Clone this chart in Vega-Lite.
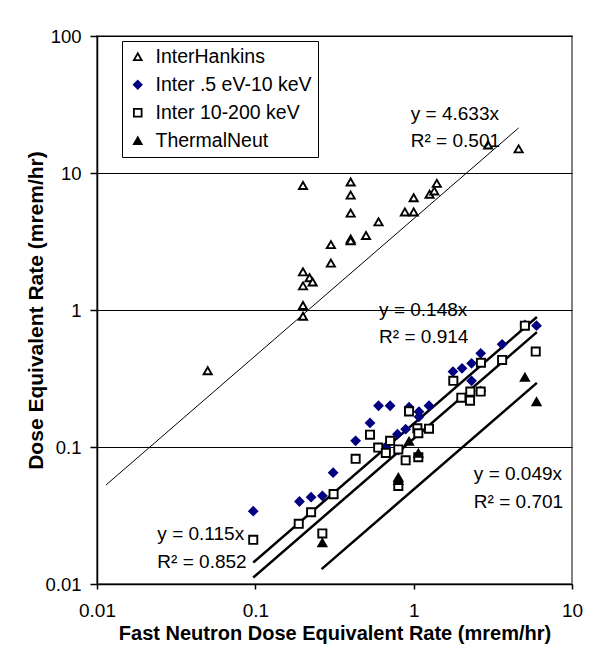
{
  "$schema": "https://vega.github.io/schema/vega-lite/v6.json",
  "autosize": "none",
  "width": 475,
  "height": 548,
  "padding": {"left": 97, "top": 36, "right": 41, "bottom": 81},
  "background": "white",
  "config": {
    "font": "Liberation Sans",
    "view": {"stroke": "#808080", "strokeWidth": 2},
    "axis": {
      "domainColor": "black", "domainWidth": 1.5, "tickColor": "black", "tickWidth": 1.5,
      "labelFont": "Liberation Sans", "labelColor": "black",
      "titleFont": "Liberation Sans", "titleFontWeight": "bold", "titleColor": "black"
    },
    "legend": {
      "strokeColor": "black", "fillColor": "white", "padding": 6,
      "labelFont": "Liberation Sans", "labelFontSize": 19.5, "labelColor": "black", "labelLimit": 300,
      "symbolSize": 60, "symbolStrokeWidth": 1.8, "rowPadding": 7, "labelOffset": 8
    }
  },
  "datasets": {
    "pts": [
      {"s": "InterHankins", "x": 0.05, "y": 0.36},
      {"s": "InterHankins", "x": 0.2, "y": 8.1},
      {"s": "InterHankins", "x": 0.2, "y": 1.9},
      {"s": "InterHankins", "x": 0.2, "y": 1.5},
      {"s": "InterHankins", "x": 0.2, "y": 1.08},
      {"s": "InterHankins", "x": 0.2, "y": 0.9},
      {"s": "InterHankins", "x": 0.22, "y": 1.72},
      {"s": "InterHankins", "x": 0.23, "y": 1.6},
      {"s": "InterHankins", "x": 0.3, "y": 3.0},
      {"s": "InterHankins", "x": 0.3, "y": 2.2},
      {"s": "InterHankins", "x": 0.4, "y": 8.6},
      {"s": "InterHankins", "x": 0.4, "y": 6.9},
      {"s": "InterHankins", "x": 0.4, "y": 5.1},
      {"s": "InterHankins", "x": 0.4, "y": 3.3},
      {"s": "InterHankins", "x": 0.4, "y": 3.2},
      {"s": "InterHankins", "x": 0.5, "y": 3.5},
      {"s": "InterHankins", "x": 0.6, "y": 4.4},
      {"s": "InterHankins", "x": 0.88, "y": 5.2},
      {"s": "InterHankins", "x": 1.0, "y": 6.6},
      {"s": "InterHankins", "x": 1.0, "y": 5.2},
      {"s": "InterHankins", "x": 1.26, "y": 7.0},
      {"s": "InterHankins", "x": 1.35, "y": 7.4},
      {"s": "InterHankins", "x": 1.4, "y": 8.4},
      {"s": "InterHankins", "x": 2.95, "y": 16},
      {"s": "InterHankins", "x": 4.6, "y": 15},
      {"s": "Inter .5 eV-10 keV", "x": 0.097, "y": 0.034},
      {"s": "Inter .5 eV-10 keV", "x": 0.19, "y": 0.04},
      {"s": "Inter .5 eV-10 keV", "x": 0.225, "y": 0.043},
      {"s": "Inter .5 eV-10 keV", "x": 0.265, "y": 0.044},
      {"s": "Inter .5 eV-10 keV", "x": 0.31, "y": 0.065},
      {"s": "Inter .5 eV-10 keV", "x": 0.43, "y": 0.111},
      {"s": "Inter .5 eV-10 keV", "x": 0.53, "y": 0.15},
      {"s": "Inter .5 eV-10 keV", "x": 0.6, "y": 0.2},
      {"s": "Inter .5 eV-10 keV", "x": 0.71, "y": 0.2},
      {"s": "Inter .5 eV-10 keV", "x": 0.667, "y": 0.1},
      {"s": "Inter .5 eV-10 keV", "x": 0.79, "y": 0.124},
      {"s": "Inter .5 eV-10 keV", "x": 0.8, "y": 0.095},
      {"s": "Inter .5 eV-10 keV", "x": 0.89, "y": 0.135},
      {"s": "Inter .5 eV-10 keV", "x": 0.935, "y": 0.195},
      {"s": "Inter .5 eV-10 keV", "x": 1.08, "y": 0.181},
      {"s": "Inter .5 eV-10 keV", "x": 1.08, "y": 0.166},
      {"s": "Inter .5 eV-10 keV", "x": 1.25, "y": 0.2},
      {"s": "Inter .5 eV-10 keV", "x": 1.77, "y": 0.355},
      {"s": "Inter .5 eV-10 keV", "x": 2.02, "y": 0.375},
      {"s": "Inter .5 eV-10 keV", "x": 2.32, "y": 0.408},
      {"s": "Inter .5 eV-10 keV", "x": 2.65, "y": 0.483},
      {"s": "Inter .5 eV-10 keV", "x": 3.62, "y": 0.562},
      {"s": "Inter .5 eV-10 keV", "x": 5.04, "y": 0.778},
      {"s": "Inter .5 eV-10 keV", "x": 5.97, "y": 0.768},
      {"s": "Inter .5 eV-10 keV", "x": 2.32, "y": 0.304},
      {"s": "Inter .5 eV-10 keV", "x": 2.65, "y": 0.256},
      {"s": "Inter 10-200 keV", "x": 0.097, "y": 0.021},
      {"s": "Inter 10-200 keV", "x": 0.188, "y": 0.0275},
      {"s": "Inter 10-200 keV", "x": 0.225, "y": 0.0334},
      {"s": "Inter 10-200 keV", "x": 0.265, "y": 0.0234},
      {"s": "Inter 10-200 keV", "x": 0.312, "y": 0.0453},
      {"s": "Inter 10-200 keV", "x": 0.43, "y": 0.082},
      {"s": "Inter 10-200 keV", "x": 0.53, "y": 0.123},
      {"s": "Inter 10-200 keV", "x": 0.597, "y": 0.099},
      {"s": "Inter 10-200 keV", "x": 0.667, "y": 0.0905},
      {"s": "Inter 10-200 keV", "x": 0.71, "y": 0.111},
      {"s": "Inter 10-200 keV", "x": 0.8, "y": 0.096},
      {"s": "Inter 10-200 keV", "x": 0.89, "y": 0.08},
      {"s": "Inter 10-200 keV", "x": 0.8, "y": 0.052},
      {"s": "Inter 10-200 keV", "x": 0.935, "y": 0.182},
      {"s": "Inter 10-200 keV", "x": 1.055, "y": 0.137},
      {"s": "Inter 10-200 keV", "x": 1.07, "y": 0.126},
      {"s": "Inter 10-200 keV", "x": 1.07, "y": 0.0843},
      {"s": "Inter 10-200 keV", "x": 1.25, "y": 0.136},
      {"s": "Inter 10-200 keV", "x": 1.78, "y": 0.304},
      {"s": "Inter 10-200 keV", "x": 2.0, "y": 0.229},
      {"s": "Inter 10-200 keV", "x": 2.27, "y": 0.218},
      {"s": "Inter 10-200 keV", "x": 2.28, "y": 0.254},
      {"s": "Inter 10-200 keV", "x": 2.65, "y": 0.254},
      {"s": "Inter 10-200 keV", "x": 2.66, "y": 0.412},
      {"s": "Inter 10-200 keV", "x": 3.62, "y": 0.432},
      {"s": "Inter 10-200 keV", "x": 5.04, "y": 0.768},
      {"s": "Inter 10-200 keV", "x": 5.9, "y": 0.497},
      {"s": "ThermalNeut", "x": 0.265, "y": 0.02},
      {"s": "ThermalNeut", "x": 0.8, "y": 0.06},
      {"s": "ThermalNeut", "x": 0.8, "y": 0.057},
      {"s": "ThermalNeut", "x": 0.935, "y": 0.11},
      {"s": "ThermalNeut", "x": 1.07, "y": 0.09},
      {"s": "ThermalNeut", "x": 5.04, "y": 0.323},
      {"s": "ThermalNeut", "x": 5.97, "y": 0.214}
    ],
    "fits": [
      {"fit": "H", "x": 0.0114, "y": 0.05282},
      {"fit": "H", "x": 4.6, "y": 21.31},
      {"fit": "A", "x": 0.097, "y": 0.014356},
      {"fit": "A", "x": 6.0, "y": 0.888},
      {"fit": "B", "x": 0.097, "y": 0.011155},
      {"fit": "B", "x": 6.0, "y": 0.69},
      {"fit": "T", "x": 0.262, "y": 0.012838},
      {"fit": "T", "x": 6.0, "y": 0.294}
    ]
  },
  "layer": [
    {
      "data": {"name": "fits"},
      "transform": [{"filter": "datum.fit == 'H'"}],
      "mark": {"type": "line", "color": "black", "strokeWidth": 1},
      "encoding": {
        "x": {
          "field": "x", "type": "quantitative",
          "scale": {"type": "log", "domain": [0.01, 10], "nice": false},
          "axis": {
            "title": "Fast Neutron Dose Equivalent Rate (mrem/hr)",
            "values": [0.01, 0.1, 1, 10], "format": "~g", "grid": false,
            "labelFontSize": 19, "titleFontSize": 20,
            "tickSize": 5, "labelPadding": 12, "titlePadding": 3, "labelFlush": false
          }
        },
        "y": {
          "field": "y", "type": "quantitative",
          "scale": {"type": "log", "domain": [0.01, 100], "nice": false},
          "axis": {
            "title": "Dose Equivalent Rate (mrem/hr)",
            "values": [0.01, 0.1, 1, 10, 100], "format": "~g", "grid": true,
            "gridColor": "black", "gridWidth": 1, "gridOpacity": 1,
            "labelFontSize": 18.5, "titleFontSize": 21,
            "tickSize": 7, "labelPadding": 9, "titlePadding": -2, "labelFlush": false
          }
        },
        "detail": {"field": "fit"}
      }
    },
    {
      "data": {"name": "fits"},
      "transform": [{"filter": "datum.fit != 'H'"}],
      "mark": {"type": "line", "color": "black", "strokeWidth": 2.5},
      "encoding": {
        "x": {"field": "x", "type": "quantitative"},
        "y": {"field": "y", "type": "quantitative"},
        "detail": {"field": "fit"}
      }
    },
    {
      "data": {"name": "pts"},
      "mark": {"type": "point", "size": 66, "strokeWidth": 1.9, "opacity": 1},
      "encoding": {
        "x": {"field": "x", "type": "quantitative"},
        "y": {"field": "y", "type": "quantitative"},
        "shape": {
          "field": "s", "type": "nominal",
          "scale": {"domain": ["InterHankins", "Inter .5 eV-10 keV", "Inter 10-200 keV", "ThermalNeut"], "range": ["triangle-up", "diamond", "square", "triangle-up"]},
          "legend": {"title": null, "orient": "none", "legendX": 25, "legendY": 5}
        },
        "fill": {
          "field": "s", "type": "nominal",
          "scale": {"domain": ["InterHankins", "Inter .5 eV-10 keV", "Inter 10-200 keV", "ThermalNeut"], "range": ["white", "#000080", "white", "black"]},
          "legend": {"title": null, "orient": "none", "legendX": 25, "legendY": 5}
        },
        "stroke": {
          "field": "s", "type": "nominal",
          "scale": {"domain": ["InterHankins", "Inter .5 eV-10 keV", "Inter 10-200 keV", "ThermalNeut"], "range": ["black", "#000080", "black", "black"]},
          "legend": {"title": null, "orient": "none", "legendX": 25, "legendY": 5}
        }
      }
    },
    {
      "data": {"values": [{"t": "y = 4.633x"}]},
      "mark": {"type": "text", "align": "left", "baseline": "middle", "fontSize": 19, "font": "Liberation Sans", "color": "black"},
      "encoding": {"x": {"datum": 0.959, "type": "quantitative"}, "y": {"datum": 27, "type": "quantitative"}, "text": {"field": "t"}}
    },
    {
      "data": {"values": [{"t": "R² = 0.501"}]},
      "mark": {"type": "text", "align": "left", "baseline": "middle", "fontSize": 19, "font": "Liberation Sans", "color": "black"},
      "encoding": {"x": {"datum": 0.959, "type": "quantitative"}, "y": {"datum": 17.2, "type": "quantitative"}, "text": {"field": "t"}}
    },
    {
      "data": {"values": [{"t": "y = 0.148x"}]},
      "mark": {"type": "text", "align": "left", "baseline": "middle", "fontSize": 19, "font": "Liberation Sans", "color": "black"},
      "encoding": {"x": {"datum": 0.605, "type": "quantitative"}, "y": {"datum": 1.0, "type": "quantitative"}, "text": {"field": "t"}}
    },
    {
      "data": {"values": [{"t": "R² = 0.914"}]},
      "mark": {"type": "text", "align": "left", "baseline": "middle", "fontSize": 19, "font": "Liberation Sans", "color": "black"},
      "encoding": {"x": {"datum": 0.605, "type": "quantitative"}, "y": {"datum": 0.638, "type": "quantitative"}, "text": {"field": "t"}}
    },
    {
      "data": {"values": [{"t": "y = 0.049x"}]},
      "mark": {"type": "text", "align": "left", "baseline": "middle", "fontSize": 19, "font": "Liberation Sans", "color": "black"},
      "encoding": {"x": {"datum": 2.4, "type": "quantitative"}, "y": {"datum": 0.0635, "type": "quantitative"}, "text": {"field": "t"}}
    },
    {
      "data": {"values": [{"t": "R² = 0.701"}]},
      "mark": {"type": "text", "align": "left", "baseline": "middle", "fontSize": 19, "font": "Liberation Sans", "color": "black"},
      "encoding": {"x": {"datum": 2.4, "type": "quantitative"}, "y": {"datum": 0.0399, "type": "quantitative"}, "text": {"field": "t"}}
    },
    {
      "data": {"values": [{"t": "y = 0.115x"}]},
      "mark": {"type": "text", "align": "left", "baseline": "middle", "fontSize": 19, "font": "Liberation Sans", "color": "black"},
      "encoding": {"x": {"datum": 0.02406, "type": "quantitative"}, "y": {"datum": 0.0232, "type": "quantitative"}, "text": {"field": "t"}}
    },
    {
      "data": {"values": [{"t": "R² = 0.852"}]},
      "mark": {"type": "text", "align": "left", "baseline": "middle", "fontSize": 19, "font": "Liberation Sans", "color": "black"},
      "encoding": {"x": {"datum": 0.02406, "type": "quantitative"}, "y": {"datum": 0.01456, "type": "quantitative"}, "text": {"field": "t"}}
    }
  ]
}
